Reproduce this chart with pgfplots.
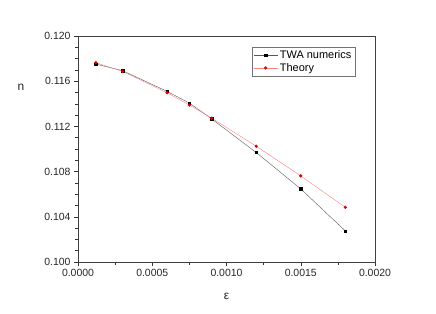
\documentclass[border=0pt]{standalone}
\usepackage{pgfplots}
\pgfplotsset{compat=1.18}
\usepackage{fontspec}
\setmainfont{Liberation Sans}
\begin{document}
\begin{tikzpicture}
\path[use as bounding box] (-78bp,-52bp) rectangle (358bp,262bp);
\begin{axis}[
  scale only axis,
  width=297bp, height=226bp,
  xmin=0, xmax=0.002, ymin=0.100, ymax=0.120,
  xtick={0,0.0005,0.001,0.0015,0.002},
  ytick={0.100,0.104,0.108,0.112,0.116,0.120},
  minor x tick num=1,
  minor y tick num=3,
  scaled x ticks=false, scaled y ticks=false,
  xticklabel style={/pgf/number format/.cd,fixed,fixed zerofill,precision=4},
  yticklabel style={/pgf/number format/.cd,fixed,fixed zerofill,precision=3},
  /pgf/number format/assume math mode=true,
  tick align=outside,
  xtick pos=bottom, ytick pos=left,
  major tick length=4bp, minor tick length=2.5bp,
  tick style={color=black!80, line width=0.5pt},
  axis line style={color=black!75, line width=0.6pt},
  ticklabel style={font=\fontsize{10.5}{12}\selectfont, color=black!85},
  xlabel={ε}, ylabel={n},
  label style={font=\fontsize{12}{14}\selectfont, color=black!85},
  xlabel style={at={(axis description cs:0.5,-0.150)}, anchor=center},
  ylabel style={rotate=-90, at={(axis description cs:-0.192,0.774)}, anchor=center},
  legend style={at={(axis description cs:0.585,0.951)}, anchor=north west,
    draw=black!55, font=\fontsize{11}{13}\selectfont, row sep=-1pt,
    inner sep=1.5pt},
  legend cell align=left,
  legend image code/.code={
    \draw[#1] (0cm,0cm) -- (0.85cm,0cm);
    \draw[#1, only marks] plot coordinates {(0.425cm,0cm)};
  },
]
\addplot[color=black!65, line width=0.4pt, mark=square*, mark size=1.2pt,
  mark options={draw=black, fill=black}] coordinates {
  (0.00012,0.11752) (0.0003,0.11693) (0.0006,0.11510) (0.00075,0.11406)
  (0.0009,0.11267) (0.0012,0.10969) (0.0015,0.10647) (0.0018,0.10275)
};
\addlegendentry{TWA numerics}
\addplot[color=red!50!white, line width=0.4pt, mark=*, mark size=1.4pt,
  mark options={draw=red!85!black, fill=red!85!black}] coordinates {
  (0.00012,0.11764) (0.0003,0.11687) (0.0006,0.11498) (0.00075,0.11389)
  (0.0009,0.11273) (0.0012,0.11025) (0.0015,0.10762) (0.0018,0.10484)
};
\addlegendentry{Theory}
\end{axis}
\end{tikzpicture}
\end{document}
